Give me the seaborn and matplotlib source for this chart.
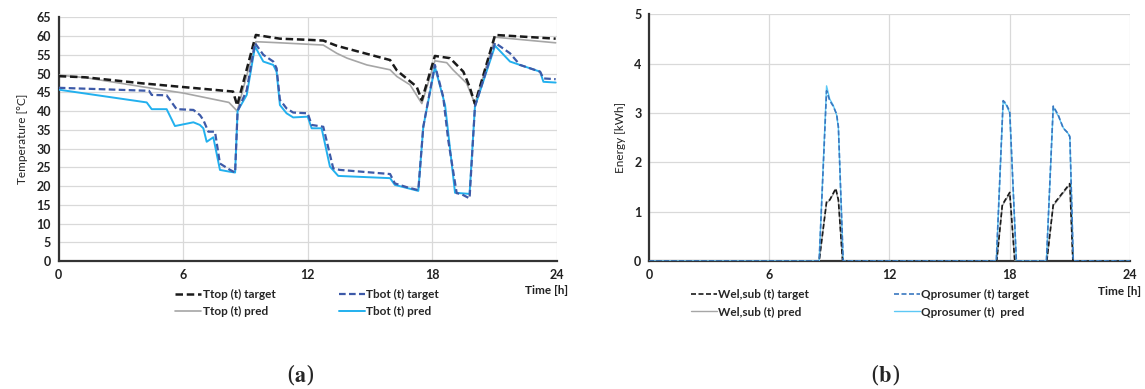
import numpy as np
import pandas as pd
import seaborn as sns
import matplotlib.pyplot as plt

# ---- panel (a): tank temperatures ----
ttop_target_t = [0, 1.3, 4, 8.4, 8.6, 9.5, 10.66, 12, 12.75, 13.4, 15.97, 16.3, 16.85, 17.25, 17.5,
                 18.13, 18.86, 19.5, 19.8, 20.06, 21.03, 23.95]
ttop_target = [49.3, 49.0, 47.4, 45.2, 41.5, 60.3, 59.3, 59.0, 58.8, 57.4, 53.6, 50.8, 48.3, 46.5, 42.9,
               54.7, 54.1, 50.5, 46.5, 41.9, 60.3, 59.3]

ttop_pred_t = [0, 1.3, 4, 6, 8.2, 8.6, 9.5, 10.66, 12.75, 13.4, 13.9, 14.85, 15.97, 16.3, 16.93, 17.5,
               18.13, 18.7, 19.0, 19.66, 20.06, 21.03, 23.95]
ttop_pred = [49.6, 48.9, 46.5, 44.8, 42.3, 40.0, 58.5, 58.2, 57.6, 55.4, 54.1, 52.3, 51.0, 49.2, 47.0, 42.0,
             53.4, 52.9, 51.0, 47.4, 41.9, 59.7, 58.2]

tbot_target_t = [0, 4.35, 4.48, 5.2, 5.68, 6.49, 6.81, 6.97, 7.21, 7.53, 7.77, 8.26, 8.5, 8.62, 9.06, 9.46,
                 9.86, 10.34, 10.5, 10.66, 10.98, 11.3, 12.0, 12.19, 12.75, 13.23, 13.55, 15.97, 16.2, 16.77,
                 17.33, 17.57, 18.13, 18.53, 18.77, 19.18, 19.42, 19.8, 20.06, 21.03, 21.75, 22.23, 23.2,
                 23.36, 23.95]
tbot_target = [46.2, 45.4, 44.3, 44.2, 40.5, 40.3, 38.9, 37.6, 34.5, 34.5, 26.0, 24.3, 23.6, 40.0, 45.6, 58.1,
               55.0, 53.2, 51.4, 43.0, 40.7, 39.6, 39.4, 36.3, 35.8, 24.7, 24.3, 23.2, 20.7, 19.7,
               18.9, 35.8, 52.3, 43.8, 32.3, 18.1, 17.8, 16.7, 41.2, 58.2, 55.4, 52.3, 50.5,
               48.7, 48.5]

tbot_pred_t = [0, 4.24, 4.48, 5.2, 5.6, 6.49, 6.8, 6.97, 7.13, 7.45, 7.77, 8.26, 8.5, 8.62, 9.06, 9.46,
               9.86, 10.34, 10.5, 10.66, 10.98, 11.3, 12.0, 12.19, 12.67, 13.07, 13.47, 15.97, 16.2, 17.33,
               17.57, 18.13, 18.62, 19.1, 19.8, 20.06, 21.03, 21.75, 22.23, 23.2, 23.36, 23.95]
tbot_pred = [45.7, 42.3, 40.5, 40.5, 36.0, 37.0, 36.3, 35.4, 31.8, 33.0, 24.3, 23.8, 23.6, 40.0, 44.3, 57.2,
             53.2, 52.3, 50.5, 41.6, 39.4, 38.3, 38.5, 35.4, 35.4, 25.2, 22.7, 22.1, 20.3, 18.7,
             35.8, 51.8, 41.6, 18.2, 17.9, 41.2, 57.4, 53.2, 52.3, 50.5, 47.8, 47.6]

# ---- panel (b): energy ----
q_t = [0, 8.49, 8.86, 9.02, 9.19, 9.36, 9.45, 9.69, 17.33, 17.67, 17.8, 18.0, 18.33,
       19.83, 20.17, 20.42, 20.67, 20.92, 21.0, 21.17, 24]
q_target = [0, 0, 3.45, 3.25, 3.14, 2.98, 2.72, 0, 0, 3.25, 3.2, 3.03, 0,
            0, 3.14, 2.96, 2.69, 2.59, 2.52, 0, 0]
q_pred = [0, 0, 3.55, 3.28, 3.16, 2.96, 2.70, 0, 0, 3.22, 3.18, 3.0, 0,
          0, 3.12, 2.94, 2.70, 2.58, 2.50, 0, 0]

wel_t = [0, 8.49, 8.86, 9.02, 9.32, 9.45, 9.66, 17.35, 17.63, 18.0, 18.25, 19.85, 20.17, 20.67, 21.0, 21.15, 24]
wel_target = [0, 0, 1.2, 1.24, 1.47, 1.24, 0, 0, 1.14, 1.39, 0, 0, 1.14, 1.4, 1.57, 0, 0]
wel_pred = [0, 0, 1.18, 1.23, 1.45, 1.22, 0, 0, 1.12, 1.37, 0, 0, 1.12, 1.38, 1.55, 0, 0]

sns.set_style("white")
plt.rcParams['font.family'] = ['Lato', 'DejaVu Sans']
plt.rcParams['mathtext.fontset'] = 'stix'

fig = plt.figure(figsize=(11.45, 3.89), dpi=100)
ax_a = fig.add_axes([0.0513, 0.329, 0.4349, 0.6265])
ax_b = fig.add_axes([0.5668, 0.329, 0.4201, 0.6342])

txt = '#222222'
grid_c = '#d9d9d9'


def draw(ax, x, y, color, ls, lw, label, z):
    df = pd.DataFrame({'t': x, 'v': y})
    sns.lineplot(data=df, x='t', y='v', ax=ax, color=color, linestyle=ls, linewidth=lw,
                 label=label, estimator=None, sort=False, zorder=z)


draw(ax_a, ttop_target_t, ttop_target, '#1a1a1a', (0, (3, 1.5)), 1.8, 'Ttop (t) target', 4)
draw(ax_a, ttop_pred_t, ttop_pred, '#a6a6a6', '-', 1.2, 'Ttop (t) pred', 3)
draw(ax_a, tbot_target_t, tbot_target, '#3d5aa8', (0, (3, 1.5)), 1.6, 'Tbot (t) target', 4)
draw(ax_a, tbot_pred_t, tbot_pred, '#22b0ee', '-', 1.4, 'Tbot (t) pred', 3)

draw(ax_b, wel_t, wel_target, '#1a1a1a', (0, (3, 1.5)), 1.2, 'Wel,sub (t) target', 4)
draw(ax_b, wel_t, wel_pred, '#a6a6a6', '-', 1.0, 'Wel,sub (t) pred', 3)
draw(ax_b, q_t, q_target, '#3a78c0', (0, (3, 1.5)), 1.2, 'Qprosumer (t) target', 4)
draw(ax_b, q_t, q_pred, '#5cc8f5', '-', 1.0, 'Qprosumer (t)  pred', 3)

panels = [(ax_a, 65, 5, 'Temperature [°C]', 0.213, 5.4),
          (ax_b, 5, 1, 'Energy [kWh]', 0.065, 7.2)]
for ax, ymax, ystep, ylab, leg_x, colsp in panels:
    ax.set_xlim(0, 24)
    ax.set_ylim(0, ymax)
    ax.set_xticks(np.arange(0, 25, 6))
    ax.set_yticks(np.arange(0, ymax + 0.1, ystep))
    ax.grid(True, color=grid_c, linewidth=0.9)
    ax.set_axisbelow(True)
    for s in ['top', 'right']:
        ax.spines[s].set_visible(False)
    for s in ['left', 'bottom']:
        ax.spines[s].set_color('#333333')
        ax.spines[s].set_linewidth(1.6)
    ax.tick_params(axis='both', direction='inout', length=5, width=1.2, color='#333333',
                   labelsize=9, labelcolor=txt, pad=3)
    for lab in ax.get_xticklabels() + ax.get_yticklabels():
        lab.set_fontweight('bold')
    ax.set_xlabel('')
    ax.set_ylabel(ylab, fontsize=8.5, color=txt, labelpad=6)
    ax.text(0.979, -0.1, 'Time [h]', transform=ax.transAxes, ha='center', va='top',
            fontsize=8.5, fontweight='bold', color=txt)
    h, l = ax.get_legend_handles_labels()
    ax.legend(h, l, ncol=2, loc='upper left', bbox_to_anchor=(leg_x, -0.07), frameon=False,
              handlelength=2.2, handletextpad=0.1, columnspacing=colsp, labelspacing=0.55,
              prop={'weight': 'bold', 'size': 8.5})

fig.text(0.262, 0.036, r'($\mathbf{a}$)', ha='center', va='center', fontsize=16, family='serif')
fig.text(0.773, 0.036, r'($\mathbf{b}$)', ha='center', va='center', fontsize=16, family='serif')

fig.savefig('out.png', dpi=100)
